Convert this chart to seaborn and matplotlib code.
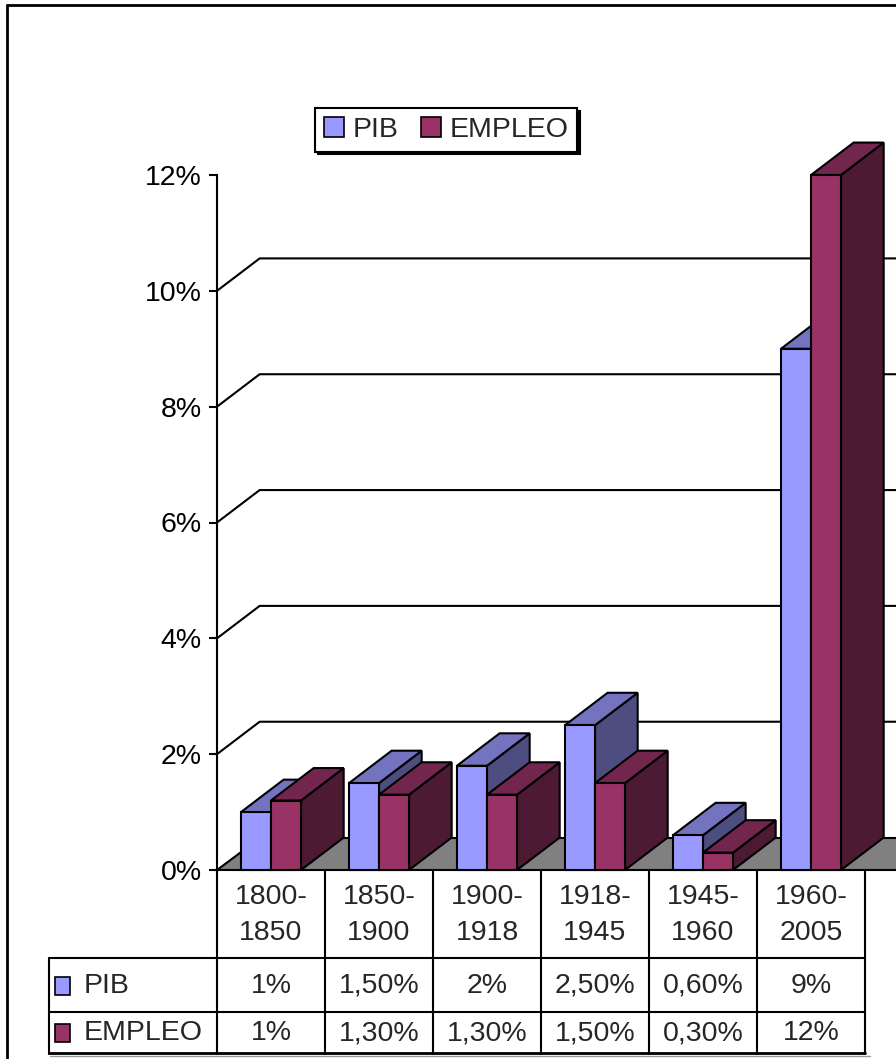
import numpy as np
import pandas as pd
import matplotlib
matplotlib.use('Agg')
import matplotlib.pyplot as plt
from matplotlib.patches import Polygon, Rectangle, Patch
from matplotlib.lines import Line2D
import seaborn as sns

# data
periodos = ['1800-\n1850', '1850-\n1900', '1900-\n1918', '1918-\n1945',
            '1945-\n1960', '1960-\n2005']
pib = [1.0, 1.5, 1.8, 2.5, 0.6, 9.0]
empleo = [1.2, 1.3, 1.3, 1.5, 0.3, 12.0]
series = ['PIB', 'EMPLEO']
# labels printed in the data table
pib_txt = ['1%', '1,50%', '2%', '2,50%', '0,60%', '9%']
empleo_txt = ['1%', '1,30%', '1,30%', '1,50%', '0,30%', '12%']
yticks = [0, 2, 4, 6, 8, 10, 12]

colors = {'PIB': '#9999FF', 'EMPLEO': '#993366'}

df = pd.DataFrame({
    'periodo': periodos * 2,
    'valor': pib + empleo,
    'serie': ['PIB'] * len(pib) + ['EMPLEO'] * len(empleo),
})

sns.set_style('white')
plt.rcParams['font.family'] = ['Liberation Sans', 'DejaVu Sans']
FS = 20.5

W, H = 896, 1059
fig = plt.figure(figsize=(W / 100, H / 100), dpi=100)


def fx(px):
    return px / W


def fy(py):
    return 1 - py / H


# main plot area (front plane)
ax = fig.add_axes([fx(217), fy(870), fx(865) - fx(217), fy(175) - fy(870)])
ax.set_facecolor('none')

sns.barplot(data=df, x='periodo', y='valor', hue='serie', order=periodos,
            hue_order=series, palette=colors, width=0.556, saturation=1,
            edgecolor='black', linewidth=1.5, legend=False, ax=ax)

ax.set_xlim(-0.5, 5.5)
ax.set_ylim(0, 12)

bars = sorted([p for p in ax.patches if hasattr(p, 'get_x')],
              key=lambda p: p.get_x())

# depth of the 3d effect in data units
dx, dy = 0.395, 0.56

# back wall gridlines
for v in yticks[1:-1]:
    ax.plot([-0.5, -0.5 + dx, 7], [v, v + dy, v + dy], color='black',
            lw=1.5, clip_on=False, zorder=1)

# floor
floor = Polygon([(-0.5, 0), (5.5, 0), (7 + dx, 0), (7 + dx, dy),
                 (-0.5 + dx, dy)], closed=True, facecolor='#808080',
                edgecolor='black', lw=1.5, clip_on=False, zorder=2)
ax.add_patch(floor)


def shade(c, f):
    r, g, b = matplotlib.colors.to_rgb(c)
    return (r * f, g * f, b * f)


for o, bar in enumerate(bars):
    x0 = bar.get_x()
    w = bar.get_width()
    h = bar.get_height()
    fc = bar.get_facecolor()
    top = Polygon([(x0, h), (x0 + w, h), (x0 + w + dx, h + dy),
                   (x0 + dx, h + dy)], closed=True,
                  facecolor=shade(fc, 0.75), edgecolor='black', lw=1.5,
                  clip_on=False, zorder=3 + o)
    side = Polygon([(x0 + w, 0), (x0 + w + dx, dy), (x0 + w + dx, h + dy),
                    (x0 + w, h)], closed=True,
                   facecolor=shade(fc, 0.5), edgecolor='black', lw=1.5,
                   clip_on=False, zorder=3 + o)
    ax.add_patch(side)
    ax.add_patch(top)
    bar.set_zorder(3.5 + o)
    bar.set_clip_on(False)

sns.despine(ax=ax, top=True, right=True, bottom=True, left=False)
ax.spines['left'].set_linewidth(1.5)
ax.spines['left'].set_color('black')
ax.spines['left'].set_zorder(0.5)
ax.set_yticks(yticks)
ax.set_yticklabels([f'{v}%' for v in yticks])
ax.tick_params(axis='y', direction='out', length=6, width=1.5, pad=5,
               labelsize=FS, left=True, colors='black')
ax.set_xticks([])
ax.set_xlabel('')
ax.set_ylabel('')

# data table below the plot
tab = fig.add_axes([fx(48), fy(1054), fx(865) - fx(48), fy(870) - fy(1054)])
tab.axis('off')


def tx(px):
    return -0.5 + (px - 217) / 108


tab.set_xlim(tx(48), 5.5)
tab.set_ylim(1054, 870)

lk = dict(color='black', lw=1.5, clip_on=False)
for k in range(len(periodos) + 1):
    tab.plot([k - 0.5, k - 0.5], [870, 1054], **lk)
tab.plot([tx(49), tx(49)], [958, 1054], **lk)
for yy in [958, 1012]:
    tab.plot([tx(49), 5.5], [yy, yy], **lk)
tab.plot([tx(49), 5.5], [1053, 1053], color='black', lw=2, clip_on=False)
tab.plot([tx(50), 5.55], [1055.5, 1055.5], color='#999999', lw=1,
         clip_on=False)

for i, lab in enumerate(periodos):
    tab.text(i, 915, lab, ha='center', va='center', fontsize=FS,
             linespacing=1.5)
    tab.text(i, 986, pib_txt[i], ha='center', va='center', fontsize=FS)
    tab.text(i, 1033, empleo_txt[i], ha='center', va='center', fontsize=FS)

for name, yc in [('PIB', 986), ('EMPLEO', 1033)]:
    tab.add_patch(Rectangle((tx(55), yc - 9), tx(70) - tx(55), 18,
                            facecolor=colors[name], edgecolor='black',
                            lw=1.2, clip_on=False))
    tab.text(tx(84), yc, name, ha='left', va='center', fontsize=FS)

# legend
handles = [Patch(facecolor=colors[s], edgecolor='black', lw=1.2)
           for s in series]
leg = fig.legend(handles, series, loc='center',
                 bbox_to_anchor=(fx(446), fy(130)), ncol=2, frameon=True,
                 fancybox=False, edgecolor='black',
                 shadow={'color': 'black', 'alpha': 1},
                 fontsize=FS, handlelength=0.7, handleheight=0.7,
                 handletextpad=0.3, columnspacing=0.8, borderpad=0.3,
                 borderaxespad=0)
leg.get_frame().set_linewidth(1.5)
leg.get_frame().set_alpha(1)

# outer chart frame (cut off at right and bottom)
fig.add_artist(Line2D([fx(7), fx(7)], [fy(5), 0], color='black', lw=2))
fig.add_artist(Line2D([fx(7), 1], [fy(5), fy(5)], color='black', lw=2))

fig.savefig('out.png', dpi=100)
